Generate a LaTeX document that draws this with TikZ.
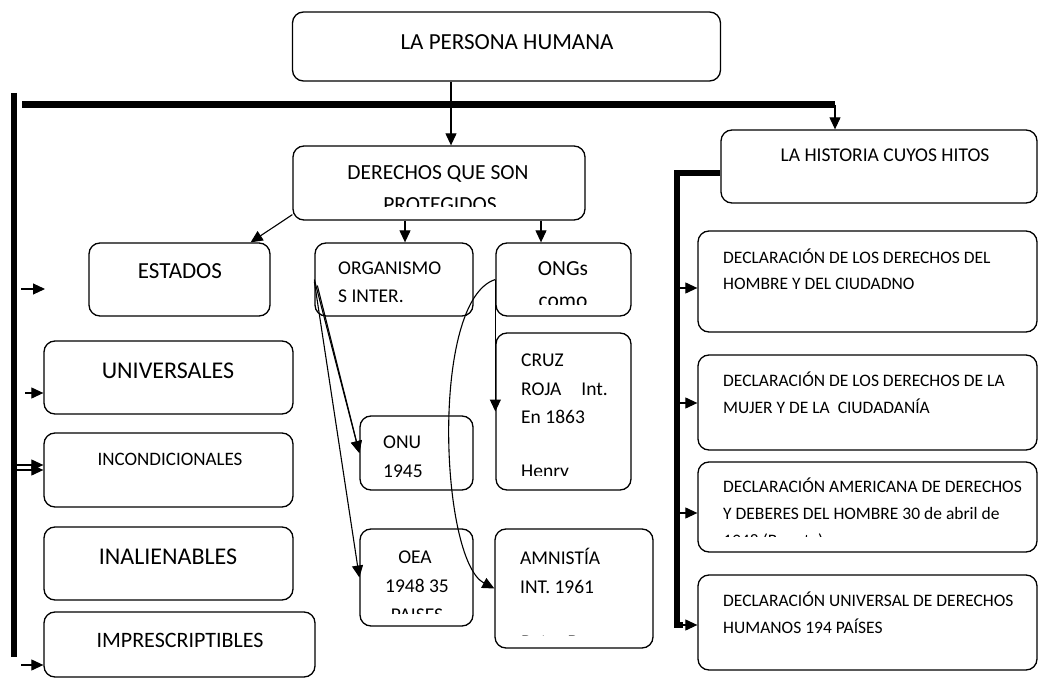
\documentclass[tikz,border=0pt]{standalone}
\usepackage{fontspec}
\setmainfont{Carlito}
\usetikzlibrary{arrows.meta}
\begin{document}
\begin{tikzpicture}[x=1pt,y=-1pt,
  box/.style={draw, line width=1.3pt, rounded corners=11pt, inner sep=0pt},
  arr/.style={-{Triangle[length=12pt,width=11pt]}, line width=1.1pt},
  bar/.style={line width=6pt},
  tl/.style={inner sep=0pt, anchor=base west},
  tc/.style={inner sep=0pt, anchor=base},
  fa/.style={font=\fontsize{23}{27}\selectfont},
  fb/.style={font=\fontsize{21.5}{26}\selectfont},
  fc/.style={font=\fontsize{19.5}{24}\selectfont},
  fd/.style={font=\fontsize{17.5}{21}\selectfont},
]
\useasboundingbox (0,0) rectangle (1039,679);
\fill[white] (0,0) rectangle (1039,679);

% ---------- boxes ----------
\node[box, minimum width=428pt, minimum height=69pt] (persona) at (506.5,46.5) {};
\node[box, minimum width=292pt, minimum height=74pt] (derechos) at (439,183) {};
\node[box, minimum width=181pt, minimum height=73pt] (estados) at (179.5,279.5) {};
\node[box, minimum width=158pt, minimum height=73pt] (organismo) at (394,279.5) {};
\node[box, minimum width=135pt, minimum height=73pt] (ongs) at (563.5,279.5) {};
\node[box, minimum width=135pt, minimum height=157pt] (cruz) at (563.5,411.5) {};
\node[box, minimum width=113pt, minimum height=74pt] (onu) at (416.5,453) {};
\node[box, minimum width=113pt, minimum height=97pt] (oea) at (416.5,577.5) {};
\node[box, minimum width=158pt, minimum height=119pt] (amnistia) at (574,588.5) {};
\node[box, minimum width=249pt, minimum height=73pt] (universales) at (168.5,377.5) {};
\node[box, minimum width=249pt, minimum height=74pt] (incond) at (168.5,470) {};
\node[box, minimum width=249pt, minimum height=73pt] (inalien) at (168.5,563.5) {};
\node[box, minimum width=271pt, minimum height=65pt] (impres) at (179.5,644.5) {};
\node[box, minimum width=316pt, minimum height=73pt] (historia) at (879,166.5) {};
\node[box, minimum width=339pt, minimum height=101pt] (decla) at (867.5,281.5) {};
\node[box, minimum width=339pt, minimum height=95pt] (declb) at (867.5,402.5) {};
\node[box, minimum width=339pt, minimum height=90pt] (declc) at (867.5,507) {};
\node[box, minimum width=339pt, minimum height=95pt] (decld) at (867.5,622.5) {};

% ---------- texts ----------
\node[tc, fa] (tpersona) at (507,50) {LA PERSONA HUMANA};
\node[tc, fb] (tder1) at (438,180) {DERECHOS QUE SON};
\begin{scope}
  \clip (293,146) rectangle (585,207);
  \node[tc, fb] (tder2) at (440,212) {PROTEGIDOS};
\end{scope}
\node[tc, fa] (testados) at (180,279) {ESTADOS};
\node[tl, fc] (torg1) at (338,274) {ORGANISMO};
\node[tl, fc] (torg2) at (338,302) {S INTER.};
\node[tc, fb] (tongs1) at (563,276) {ONGs};
\begin{scope}
  \clip (496,243) rectangle (631,304);
  \node[tc, fb] (tongs2) at (563,307) {como};
\end{scope}
\node[tl, fc] (tcruz1) at (521,366) {CRUZ};
\node[tl, fc] (tcruz2) at (521,395) {ROJA\hspace{20pt}Int.};
\node[tl, fc] (tcruz3) at (521,423) {En 1863};
\begin{scope}
  \clip (496,333) rectangle (631,475);
  \node[tl, fc] (tcruz4) at (521,477) {Henry};
\end{scope}
\node[tl, fc] (tonu1) at (383,448) {ONU};
\node[tl, fc] (tonu2) at (383,477) {1945};
\node[tc, fc] (toea1) at (415,563) {OEA};
\node[tc, fc] (toea2) at (417,592) {1948 35};
\begin{scope}
  \clip (360,529) rectangle (473,613);
  \node[tc, fc] (toea3) at (417,621) {PAISES};
\end{scope}
\node[tl, fc] (tamn1) at (520,564) {AMNISTÍA};
\node[tl, fc] (tamn2) at (520,593) {INT. 1961};
\begin{scope}
  \clip (495,529) rectangle (653,635);
  \node[tl, fc] (tamn3) at (521,648) {Peter Benenson};
\end{scope}
\node[tc, font=\fontsize{24}{28}\selectfont] (tuniv) at (168,378) {UNIVERSALES};
\node[tc, font=\fontsize{19}{23}\selectfont] (tincond) at (170,465) {INCONDICIONALES};
\node[tc, font=\fontsize{24}{28}\selectfont] (tinal) at (168,564) {INALIENABLES};
\node[tc, font=\fontsize{22}{26}\selectfont] (timpres) at (180,647) {IMPRESCRIPTIBLES};
\node[tc, fc] (thist) at (885,162) {LA HISTORIA CUYOS HITOS};
\node[tl, fd] (tda1) at (723,263) {DECLARACIÓN DE LOS DERECHOS DEL};
\node[tl, fd] (tda2) at (723,290) {HOMBRE Y DEL CIUDADNO};
\node[tl, fd] (tdb1) at (723,386) {DECLARACIÓN DE LOS DERECHOS DE LA};
\node[tl, fd] (tdb2) at (723,413) {MUJER Y DE LA\ \ CIUDADANÍA};
\node[tl, fd] (tdc1) at (723,492) {DECLARACIÓN AMERICANA DE DERECHOS};
\node[tl, fd] (tdc2) at (723,519) {Y DEBERES DEL HOMBRE 30 de abril de};
\begin{scope}
  \clip (698,462) rectangle (1037,536);
  \node[tl, fd] (tdc3) at (723,546) {1948 (Bogota)};
\end{scope}
\node[tl, fd] (tdd1) at (723,606) {DECLARACIÓN UNIVERSAL DE DERECHOS};
\node[tl, fd] (tdd2) at (723,633) {HUMANOS 194 PAÍSES};

% ---------- helper coordinates ----------
\coordinate (c451) at (451,0);
\coordinate (c405) at (405,0);
\coordinate (c541) at (541,0);
\coordinate (tb1) at (14,93);
\coordinate (tb2) at (14,657);
\coordinate (th1) at (22,105);
\coordinate (th2) at (835,105);
\coordinate (rb) at (677,625);
\coordinate (ra1) at (677,288);
\coordinate (ra2) at (677,403);
\coordinate (ra3) at (677,513);
\coordinate (la1) at (21,289);
\coordinate (la1e) at (45,289);
\coordinate (la2) at (25,393);
\coordinate (la3a) at (17,465);
\coordinate (la3b) at (17,470);
\coordinate (la4) at (21,665);

% ---------- thick lines ----------
\draw[bar] (tb1) -- (tb2);
\draw[line width=7pt] (th1) -- (th2);
\draw[bar] ([yshift=-7pt]historia.west) -| (rb) -- ++(6,0);

% ---------- connectors ----------
\draw[arr] (persona.south -| c451) -- (derechos.north -| c451);
\draw[arr] (th2) -- (historia.north -| th2);
\draw[arr] ([yshift=6pt]derechos.south west) -- ([xshift=-20pt]estados.north east);
\draw[arr] (derechos.south -| c405) -- (organismo.north -| c405);
\draw[arr] (derechos.south -| c541) -- (ongs.north -| c541);
\draw[arr] (organismo.west) -- (onu.west);
\draw[arr] ([xshift=3pt,yshift=-6pt]organismo.west) -- (onu.west);
\draw[arr] ([yshift=-2pt]organismo.west) -- (oea.west);
\draw[arr] (ongs.west) -- (cruz.west);
\draw[arr] (ongs.west) .. controls (430,300) and (440,560) .. (amnistia.west);

\draw[arr] (la1) -- (la1e);
\draw[arr] (la2) -- (universales.west |- la2);
\draw[arr] (la3a) -- (incond.west |- la3a);
\draw[arr] (la3b) -- (incond.west |- la3b);
\draw[arr] (la4) -- (impres.west |- la4);

\draw[arr] (ra1) -- (decla.west |- ra1);
\draw[arr] (ra2) -- (declb.west |- ra2);
\draw[arr] (ra3) -- (declc.west |- ra3);
\draw[arr] (rb) -- (decld.west |- rb);
\end{tikzpicture}
\end{document}
